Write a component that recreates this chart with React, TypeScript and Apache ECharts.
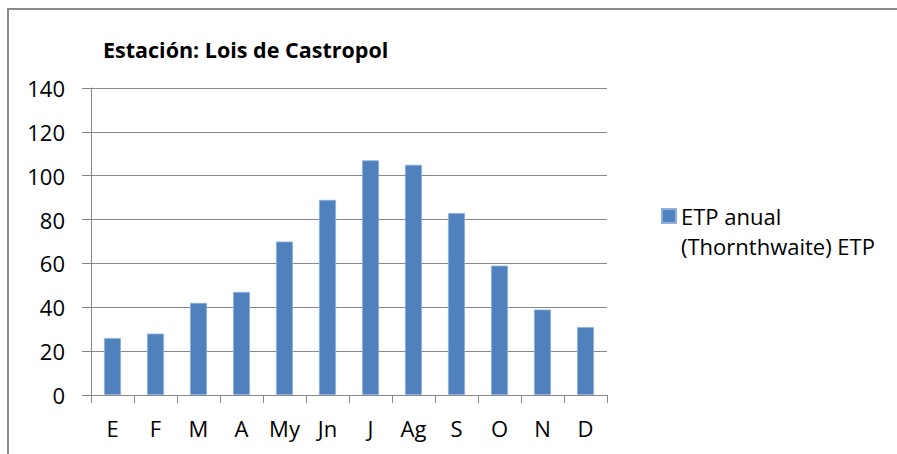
import React, { useEffect, useRef } from "react";
import * as echarts from "echarts";

const titleText = "Estación: Lois de Castropol";
const categories = ["E", "F", "M", "A", "My", "Jn", "J", "Ag", "S", "O", "N", "D"];
const seriesName = "ETP anual (Thornthwaite) ETP";
const legendLines = ["ETP anual", "(Thornthwaite) ETP"];
const etpValues = [26, 28, 42, 47, 70, 89, 107, 105, 83, 59, 39, 31];
const yMin = 0;
const yMax = 140;
const yInterval = 20;

export default function App() {
  const ref = useRef<HTMLDivElement>(null);
  useEffect(() => {
    if (!ref.current) return;
    const chart = echarts.init(ref.current, null, { renderer: "svg" });
    const font = "'Open Sans', 'Noto Sans', sans-serif";
    chart.setOption({
      animation: false,
      backgroundColor: "#ffffff",
      title: {
        text: titleText,
        left: 98,
        top: 33,
        textStyle: { fontFamily: font, fontWeight: "bold", fontSize: 21.5, color: "#000" },
      },
      legend: {
        left: 656,
        top: 166,
        orient: "vertical",
        itemWidth: 14,
        itemHeight: 14,
        icon: "rect",
        formatter: () => "\n" + legendLines.join("\n"),
        textStyle: {
          fontFamily: font,
          fontSize: 22,
          color: "#000",
          lineHeight: 30,
        },
        data: [seriesName],
      },
      grid: { left: 91, right: 290, top: 88, bottom: 59, containLabel: false },
      xAxis: {
        type: "category",
        data: categories,
        axisLine: { lineStyle: { color: "#868686", width: 1 } },
        axisTick: { show: true, length: 8, interval: 0, lineStyle: { color: "#868686" } },
        axisLabel: { fontFamily: font, fontSize: 22, color: "#000", margin: 22, interval: 0 },
      },
      yAxis: {
        type: "value",
        min: yMin,
        max: yMax,
        interval: yInterval,
        axisLine: { show: true, lineStyle: { color: "#868686", width: 1 } },
        axisTick: { show: true, length: 9, lineStyle: { color: "#868686" } },
        splitLine: { lineStyle: { color: "#868686", width: 1 } },
        axisLabel: { fontFamily: font, fontSize: 22, color: "#000", margin: 26 },
      },
      series: [
        {
          name: seriesName,
          type: "bar",
          data: etpValues,
          barWidth: 17,
          itemStyle: { color: "#4F81BD", borderColor: "#8fb0dc", borderWidth: 0.8 },
        },
      ],
      graphic: [
        {
          type: "line",
          shape: { x1: 7, y1: 9, x2: 897, y2: 9 },
          style: { stroke: "#8a8a8a", lineWidth: 2 },
        },
        {
          type: "line",
          shape: { x1: 8, y1: 8, x2: 8, y2: 454 },
          style: { stroke: "#8a8a8a", lineWidth: 2 },
        },
      ],
    });
    return () => chart.dispose();
  }, []);
  return (
    <div
      ref={ref}
      style={{ position: "fixed", left: 0, top: 0, width: 897, height: 454 }}
    />
  );
}
